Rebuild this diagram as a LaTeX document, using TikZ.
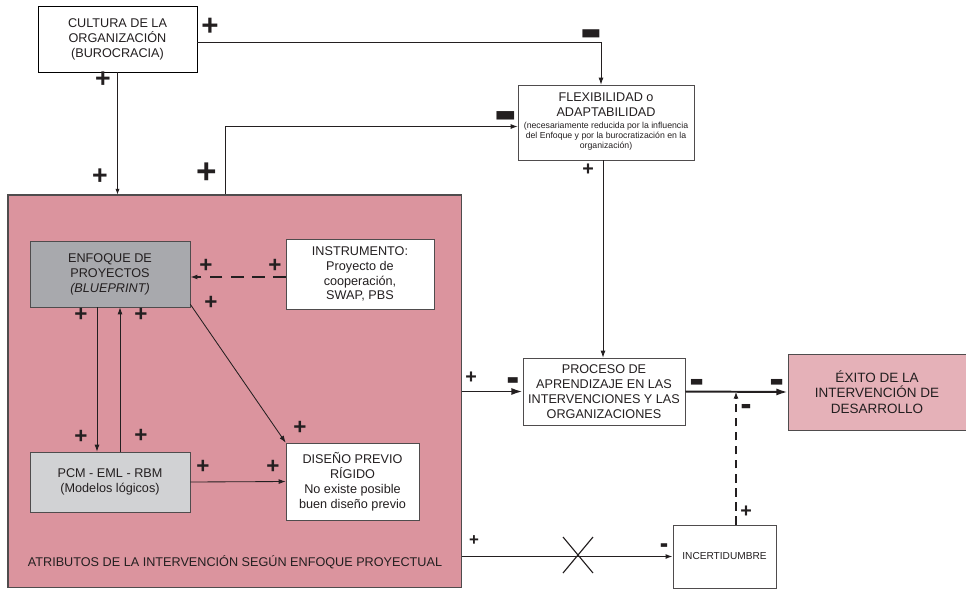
\documentclass[tikz,border=0pt]{standalone}
\usepackage{fontspec}
\setmainfont{Liberation Sans}
\usepackage{graphicx}
\usepackage{xcolor}
\definecolor{attrpink}{RGB}{219,148,158}
\definecolor{exitopink}{RGB}{229,177,184}
\definecolor{enfgray}{RGB}{168,169,173}
\definecolor{pcmgray}{RGB}{209,210,212}
\definecolor{tinta}{RGB}{35,31,32}
\usetikzlibrary{arrows.meta, positioning, calc}
\newcommand{\signomenos}[2]{{\fontsize{#1}{#1}\selectfont\bfseries\scalebox{1}[#2]{−}}}
\newcommand{\chico}{\fontsize{6.2}{7.4}\selectfont}

\begin{document}
\begin{tikzpicture}[
    x=0.025cm, y=-0.025cm,
    >={Latex[length=5pt,width=3.5pt]},
    caja/.style={draw=tinta!80, fill=white, align=center, inner sep=1pt, text=tinta, font=\fontsize{9}{10.6}\selectfont},
    flecha/.style={->, line width=0.6pt, tinta},
    gruesa/.style={-{Latex[length=8pt,width=5pt]}, line width=1.4pt, tinta},
    discont/.style={->, line width=1pt, tinta, dash pattern=on 6pt off 4pt},
    mas/.style={font=\bfseries\fontsize{#1}{#1}\selectfont, text=tinta, inner sep=0pt},
    menos/.style={text=tinta, inner sep=0pt}
]
\useasboundingbox (0,0) rectangle (966,588);

% Atributos de la intervencion
\node[draw=tinta!80, line width=0.8pt, fill=attrpink, minimum width=11.325cm, minimum height=9.8cm, inner sep=0pt] (attr) at (234.5,391) {};
\node[text=tinta, font=\fontsize{9}{10.6}\selectfont] (attrtxt) at (235,562) {ATRIBUTOS DE LA INTERVENCIÓN SEGÚN ENFOQUE PROYECTUAL};

% Cajas exteriores
\node[caja, draw=black, minimum width=3.975cm, minimum height=1.65cm] (cult) at (117.5,39) {CULTURA DE LA\\ORGANIZACIÓN\\(BUROCRACIA)};
\node[caja, minimum width=4.4cm, minimum height=1.875cm] (flex) at (606,122.5) {FLEXIBILIDAD o\\ADAPTABILIDAD\\[-2.5pt]
    {\chico\begin{tabular}[t]{@{}c@{}}(necesariamente reducida por la influencia\\del Enfoque y por la burocratización en la\\organización)\end{tabular}}};
\node[caja, minimum width=4.05cm, minimum height=1.675cm] (proc) at (604,391.5) {PROCESO DE\\APRENDIZAJE EN LAS\\INTERVENCIONES Y LAS\\ORGANIZACIONES};
\node[caja, fill=exitopink, minimum width=4.45cm, minimum height=1.9cm, font=\fontsize{9.6}{11.2}\selectfont] (exito) at (877,392) {ÉXITO DE LA\\INTERVENCIÓN DE\\DESARROLLO};
\node[caja, minimum width=2.575cm, minimum height=1.575cm, font=\fontsize{7.2}{8}\selectfont] (inc) at (724.5,556.5) {INCERTIDUMBRE};

% Cajas interiores
\node[caja, fill=enfgray, minimum width=4cm, minimum height=1.65cm] (enf) at (110,274) {ENFOQUE DE\\PROYECTOS\\\textit{(BLUEPRINT)}};
\node[caja, minimum width=3.7cm, minimum height=1.75cm] (inst) at (360,274) {INSTRUMENTO:\\Proyecto de\\cooperación,\\SWAP, PBS};
\node[caja, fill=pcmgray, minimum width=4cm, minimum height=1.5cm] (pcm) at (110,482) {PCM - EML - RBM\\(Modelos lógicos)};
\node[caja, minimum width=3.325cm, minimum height=1.925cm] (dis) at (352.5,481.5) {DISEÑO PREVIO\\RÍGIDO\\No existe posible\\buen diseño previo};

% Conectores exteriores
\draw[flecha, line width=0.5pt, -{Latex[length=4pt,width=3pt]}] (cult.south) -- (cult.south |- attr.north);
\draw[flecha] ($(cult.east)+(0,3)$) -| ($(flex.north)+(-5,0)$);
\coordinate (salida) at ($(attr.north west)+(218,0)$);
\draw[flecha] (salida) |- ($(flex.west)+(0,4)$);
\draw[flecha] ($(flex.south)+(-3,0)$) -- ($(flex.south |- proc.north)+(-3,0)$);
\draw[gruesa] (attr.east |- proc.west) -- (proc.west);
\draw[gruesa] (proc.east) -- (exito.west);
\coordinate (cruce) at ($(inc.north)+(11.5,0)$);
\draw[discont] (cruce) -- (cruce |- proc.east);
\draw[gruesa, -{Latex[length=5pt,width=3.5pt]}] (attr.east |- inc.west) -- (inc.west);
\draw[line width=0.8pt, tinta] (563,537) -- (593,573) (593,537) -- (563,573);

% Conectores interiores
\draw[discont, line width=1.1pt, dash pattern=on 9pt off 6pt] ($(inst.west)+(0,3)$) -- ($(enf.east)+(0,3)$);
\draw[flecha] ($(enf.south)+(-13,0)$) -- ($(pcm.north)+(-13,0)$);
\draw[flecha] ($(pcm.north)+(10,0)$) -- ($(enf.south)+(10,0)$);
\draw[flecha] ($(enf.south east)+(0,-3)$) -- (dis.north west);
\draw[flecha] (pcm.east) -- (dis.west);

% Signos +
\node[mas=21] (p1) at (210,27) {+};
\node[mas=19] (p2) at (103,80) {+};
\node[mas=19] (p3) at (100,177) {+};
\node[mas=25] (p4) at (207,173) {+};
\node[mas=14] (p5) at (588,170) {+};
\node[mas=16] (p6) at (206,266) {+};
\node[mas=16] (p7) at (275,266) {+};
\node[mas=16] (p8) at (211,303) {+};
\node[mas=16] (p9) at (81,315) {+};
\node[mas=16] (p10) at (141,315) {+};
\node[mas=16] (p11) at (81,437) {+};
\node[mas=16] (p12) at (141,436) {+};
\node[mas=16] (p13) at (203,467) {+};
\node[mas=16] (p14) at (273,467) {+};
\node[mas=16] (p15) at (300,428) {+};
\node[mas=14] (p16) at (471,378) {+};
\node[mas=14] (p17) at (746,512) {+};
\node[mas=12] (p18) at (474,541) {+};

% Signos -
\node[menos] (m1) at (591,44) {\signomenos{24}{2.2}};
\node[menos] (m2) at (506,127) {\signomenos{25}{2.2}};
\node[menos] (m3) at (513,388) {\signomenos{14}{2.6}};
\node[menos] (m4) at (697,389) {\signomenos{16}{2.3}};
\node[menos] (m5) at (777,389) {\signomenos{16}{2.3}};
\node[menos] (m6) at (746,412) {\signomenos{12}{2.3}};
\node[menos] (m7) at (664,550) {\signomenos{9}{2.6}};

\end{tikzpicture}
\end{document}
